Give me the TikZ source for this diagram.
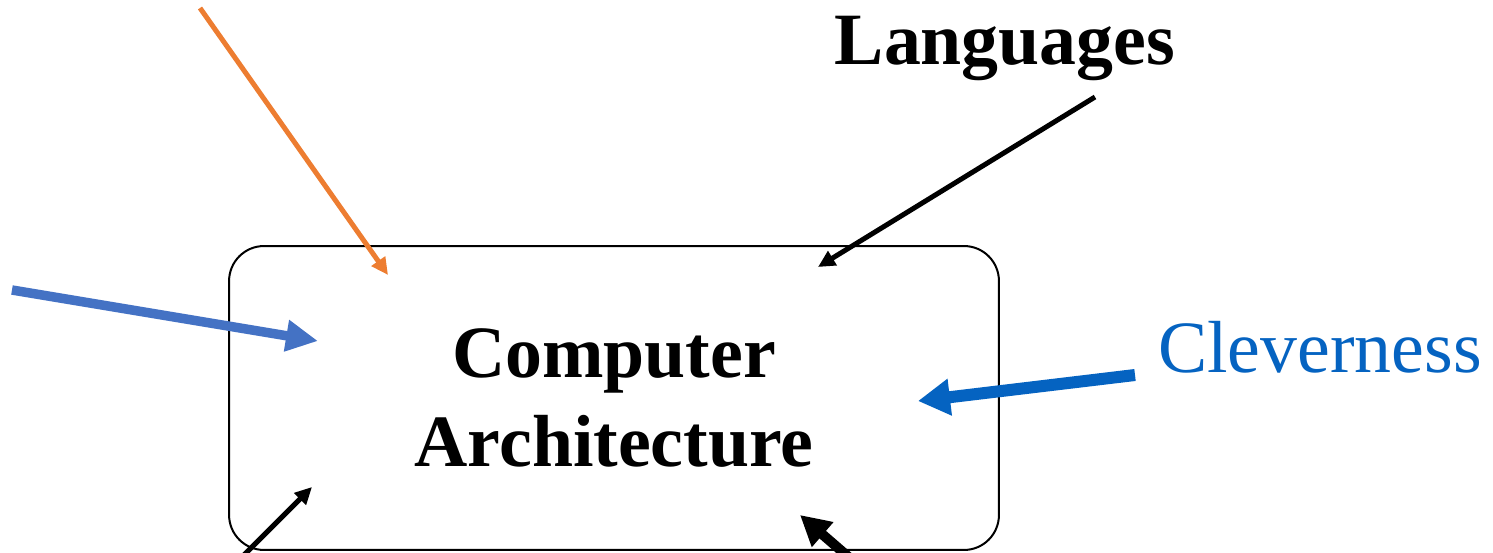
\documentclass[tikz,border=0pt]{standalone}
\usepackage{fontspec}
\setmainfont{Liberation Serif}
\usetikzlibrary{arrows.meta}
\definecolor{arrowOrange}{HTML}{ED7D31}
\definecolor{arrowBlue}{HTML}{4472C4}
\definecolor{cleverBlue}{HTML}{0563C1}
\tikzset{
	bigText/.style={font=\fontsize{42}{51}\selectfont},
	thinArrow/.style={-{Triangle[length=0.34cm, width=0.32cm]}, line width=0.1cm},
	fatArrow/.style={-{Triangle[length=0.6cm, width=0.62cm]}, line width=0.2cm}
}
\begin{document}
\begin{tikzpicture}[x=0.02cm, y=-0.02cm]
		\useasboundingbox (0,0) rectangle (1493,553);

		\node[rectangle, rounded corners=0.7cm, draw=black, line width=0.04cm, minimum width=15.4cm, minimum height=6.08cm, bigText, font=\bfseries\fontsize{42}{51}\selectfont, align=center](archBox) at (614,398){Computer\\Architecture};
		\node[bigText, font=\bfseries\fontsize{42}{51}\selectfont, anchor=base](langText) at (1005,65){Languages};
		\node[bigText, text=cleverBlue, anchor=base](cleverText) at (1320,373){Cleverness};

		% free ends
		\coordinate (orangeStart) at (200,8);
		\coordinate (orangeTip) at (388,275);
		\coordinate (langStart) at (1095,97);
		\coordinate (langTip) at (818,267);
		\coordinate (blueStart) at (12,290);
		\coordinate (blueTip) at (318,341);
		\coordinate (cleverStart) at (1135,375);
		\coordinate (cleverTip) at (918,401);
		\coordinate (lowLeftStart) at (240,559);
		\coordinate (lowLeftTip) at (312,487);
		\coordinate (lowRightStart) at (852,560);
		\coordinate (lowRightTip) at (800,515);

		% draw arrows into the box
		\draw[thinArrow, arrowOrange] (orangeStart) -- (orangeTip);
		\draw[thinArrow, black] (langStart) -- (langTip);
		\draw[-{Triangle[length=0.64cm, width=0.6cm]}, line width=0.19cm, arrowBlue] (blueStart) -- (blueTip);
		\draw[-{Triangle[length=0.64cm, width=0.7cm]}, line width=0.24cm, cleverBlue] (cleverStart) -- (cleverTip);
		\draw[thinArrow, black] (lowLeftStart) -- (lowLeftTip);
		\draw[fatArrow, black] (lowRightStart) -- (lowRightTip);

	\end{tikzpicture}
\end{document}
